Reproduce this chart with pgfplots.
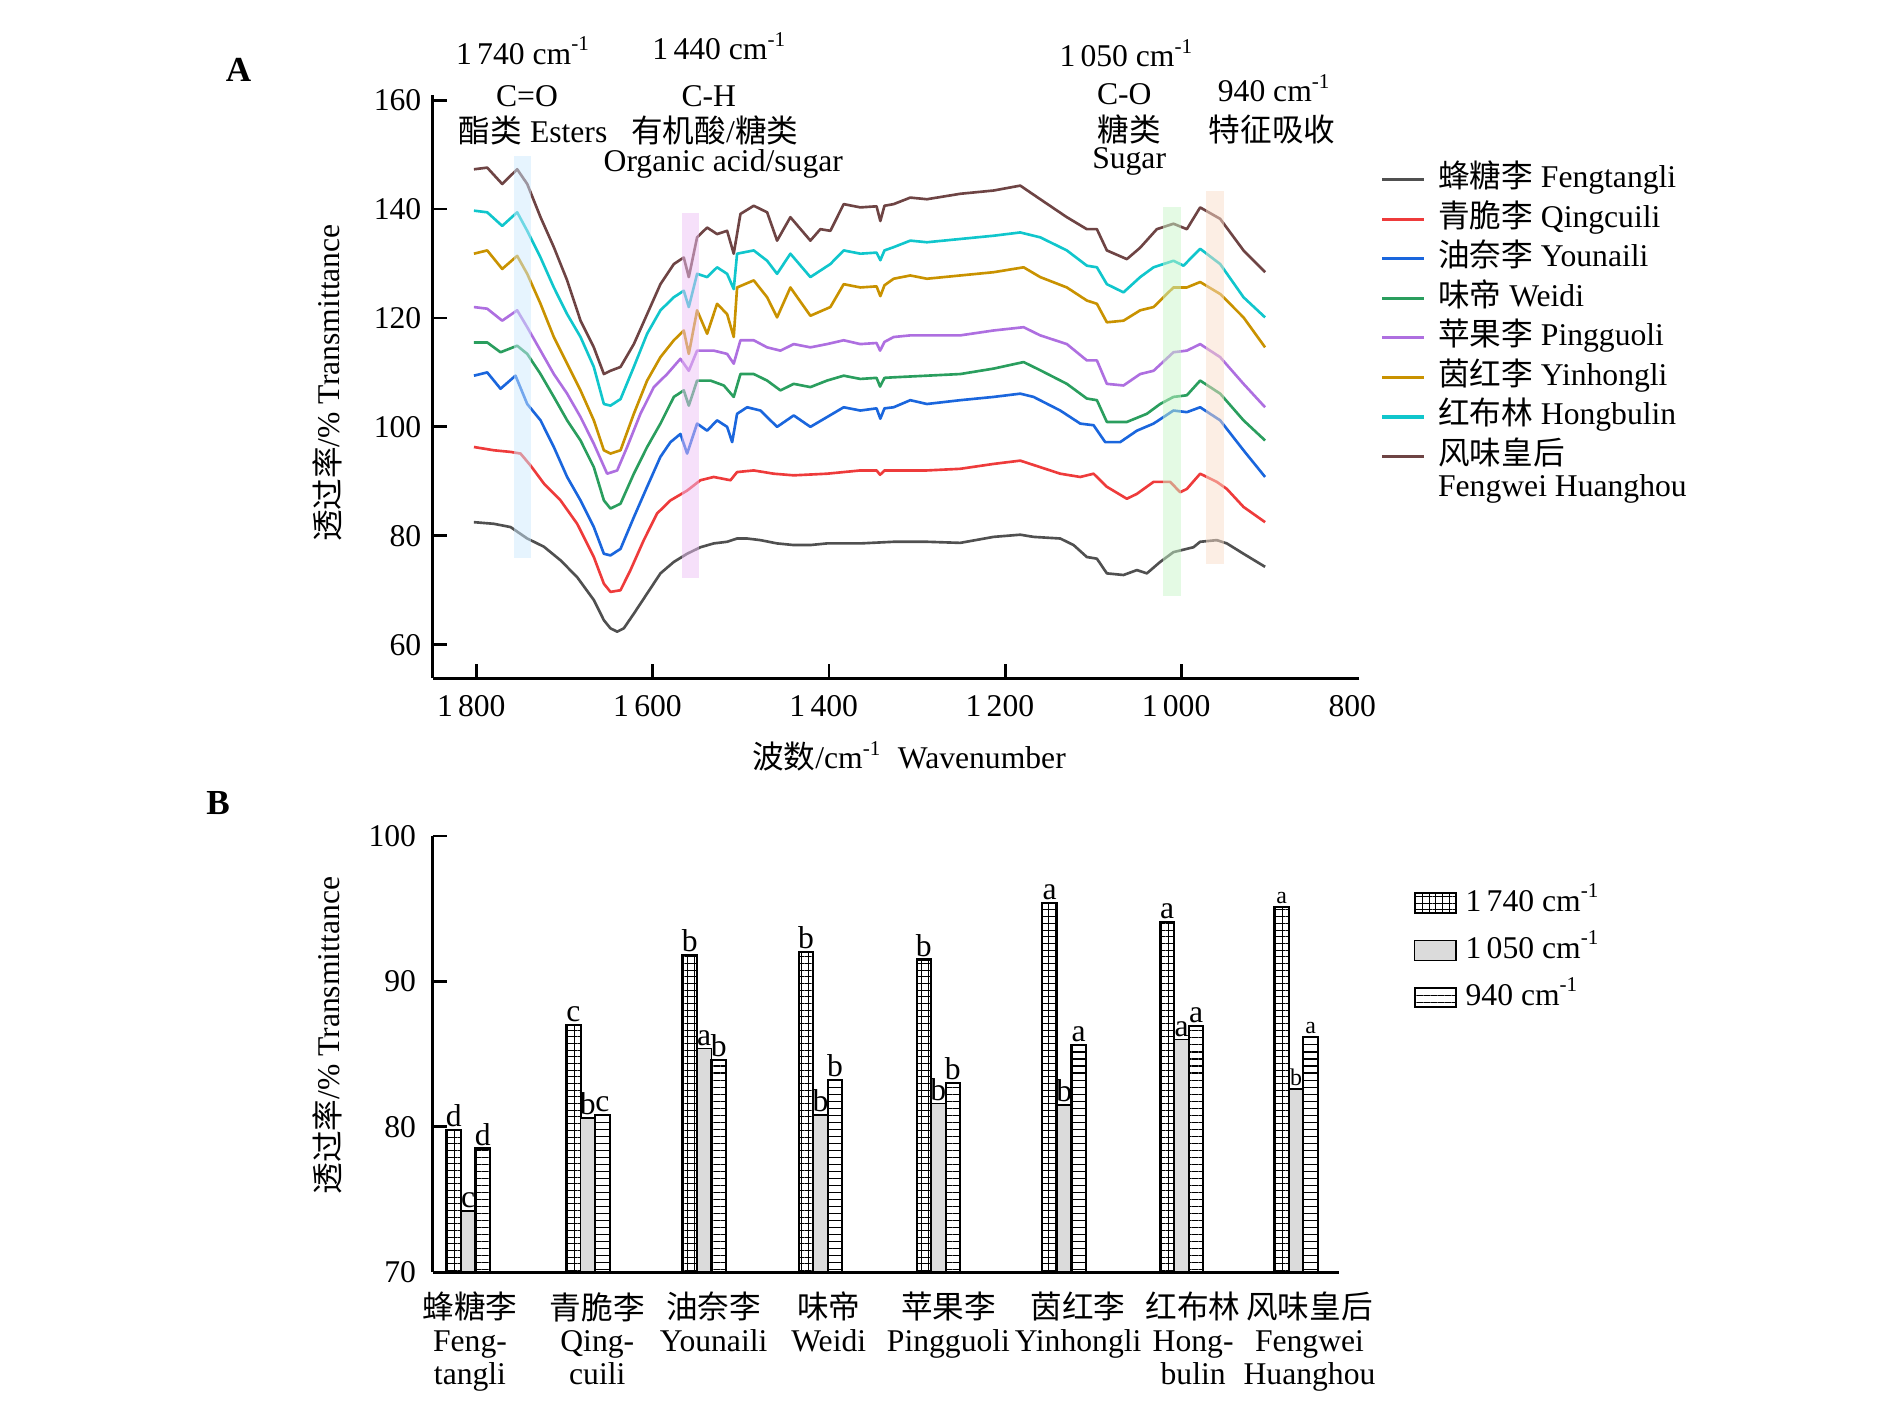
\documentclass[border=0pt]{standalone}
\usepackage{fontspec}
\setmainfont{Liberation Serif}
\newfontfamily\cjk{Noto Sans CJK SC}
\usepackage{pgfplots}
\pgfplotsset{compat=1.18}
\usetikzlibrary{patterns,patterns.meta}
\definecolor{cFT}{HTML}{505050}
\definecolor{cQC}{HTML}{EE3B3B}
\definecolor{cYN}{HTML}{1A66DD}
\definecolor{cWD}{HTML}{2A9E5E}
\definecolor{cPG}{HTML}{AE6FE0}
\definecolor{cYH}{HTML}{C99200}
\definecolor{cHB}{HTML}{10C6CC}
\definecolor{cFW}{HTML}{6E4444}
\definecolor{bandB}{RGB}{205,233,253}
\definecolor{bandP}{RGB}{237,193,245}
\definecolor{bandG}{RGB}{201,245,201}
\definecolor{bandO}{RGB}{249,221,201}
\newcommand\cm{cm\textsuperscript{-1}}
\protected\def\sm#1{{\fontsize{6.8}{7.5}\selectfont #1}}
\begin{document}
\fontsize{9}{10.8}\selectfont
\begin{tikzpicture}[x=0.3447pt,y=-0.3447pt]
\useasboundingbox (0,0) rectangle (1560,1170);
\coordinate (A0) at (357,560);
\coordinate (B0) at (357,1050);
% ---------------- Panel A ----------------
\begin{axis}[
  at={(A0)}, anchor=south west, scale only axis,
  width=263.7pt, height=166.1pt,
  x dir=reverse, xmin=798, xmax=1850, ymin=53.8, ymax=161,
  enlargelimits=false,
  axis x line=bottom, axis y line=left,
  axis line style={-, line width=0.8pt},
  tick style={black, line width=0.8pt}, major tick length=4pt, tick align=inside,
  xtick={1800,1600,1400,1200,1000},
  xticklabels={1\,800,1\,600,1\,400,1\,200,1\,000},
  extra x ticks={800}, extra x tick labels={800},
  extra x tick style={major tick length=0pt},
  xticklabel style={yshift=-1.5pt, xshift=-1.5pt},
  ytick={60,80,100,120,140,160},
  /pgf/number format/assume math mode=true,
  xlabel={{\cjk 波数}/\cm\ \ Wavenumber},
  ylabel={{\cjk 透过率}/\% Transmittance},
  xlabel style={at={(axis description cs:0.514,-0.133)}, anchor=center},
  ylabel style={at={(axis description cs:-0.1137,0.506)}, anchor=center},
  legend cell align=left,
  legend style={at={(axis description cs:1.022,0.889)}, anchor=north west,
    draw=none, fill=none, inner sep=0pt, row sep=0.15pt, column sep=2pt,
    nodes={inner sep=1.5pt, text height=6.3pt, text depth=1.8pt, anchor=west}},
  legend image code/.code={\draw[#1,line width=0.9pt] (0pt,0pt) -- (12pt,0pt);},
  every axis plot/.append style={line width=0.75pt, mark=none, line join=round},
]
\addplot[cFT] coordinates {(1803,82.5) (1780.3,82.2) (1761.4,81.6) (1742.5,79.5) (1723.6,78.0) (1704.7,75.5) (1685.8,72.4) (1666.9,68.2) (1655.5,64.5) (1648,63.0) (1640.4,62.4) (1632.9,63.0) (1621.5,65.7) (1606.4,69.4) (1591.3,73.1) (1576.1,75.2) (1561,76.7) (1545.9,77.9) (1530.8,78.6) (1515.6,78.9) (1504.3,79.5) (1492.9,79.5) (1477.8,79.2) (1458.9,78.6) (1440,78.3) (1421.1,78.3) (1402.2,78.6) (1383.3,78.6) (1364.4,78.6) (1326.6,78.9) (1288.8,78.9) (1251,78.7) (1213.1,79.8) (1182.9,80.2) (1167.8,79.8) (1137.5,79.5) (1122.4,78.3) (1107.3,76.1) (1095.9,75.8) (1084.6,73.1) (1065.7,72.8) (1050.5,73.7) (1039.2,73.1) (1024.1,75.2) (1009,77.0) (986.3,77.9) (978.7,78.9) (959.8,79.2) (948.4,78.6) (929.5,76.7) (905,74.3)};
\addlegendentry{{\cjk 蜂糖李} Fengtangli}
\addplot[cQC] coordinates {(1803,96.3) (1780.3,95.7) (1761.4,95.4) (1750.1,95.1) (1738.7,92.9) (1723.6,89.6) (1704.7,86.5) (1685.8,82.2) (1666.9,76.1) (1655.5,71.2) (1648,69.7) (1636.6,70.0) (1625.3,73.7) (1610.2,79.2) (1595.1,84.1) (1579.9,86.5) (1561,88.3) (1545.9,90.2) (1530.8,90.8) (1511.8,90.2) (1504.3,91.7) (1485.4,92.0) (1462.7,91.4) (1440,91.1) (1402.2,91.4) (1364.4,92.0) (1346,92.0) (1342,91.2) (1337,92.0) (1326.6,92.0) (1288.8,92.0) (1251,92.3) (1213.1,93.2) (1182.9,93.8) (1160.2,92.6) (1137.5,91.4) (1114.8,90.8) (1099.7,91.4) (1084.6,89.0) (1061.9,86.8) (1050.5,87.7) (1031.6,89.9) (1012.7,89.9) (1001.4,88.0) (993.8,88.6) (978.7,91.4) (959.8,89.9) (948.4,88.6) (929.5,85.3) (905,82.5)};
\addlegendentry{{\cjk 青脆李} Qingcuili}
\addplot[cYN] coordinates {(1803,109.4) (1787.9,110.0) (1772.8,107.0) (1755.8,109.4) (1742.5,104.2) (1727.4,101.2) (1712.3,96.3) (1697.2,90.8) (1682,86.5) (1666.9,81.6) (1655.5,76.7) (1648,76.4) (1636.6,77.6) (1621.5,83.4) (1606.4,89.0) (1591.3,94.5) (1579.9,97.2) (1568.6,98.7) (1561,95.1) (1549.7,100.6) (1538.3,99.3) (1527,101.2) (1515.6,100.0) (1509.9,97.2) (1504.3,102.4) (1492.9,103.6) (1477.8,103.0) (1458.9,100.0) (1440,102.1) (1421.1,100.0) (1402.2,101.8) (1383.3,103.6) (1364.4,103.0) (1346,103.4) (1341.7,101.5) (1337,103.4) (1326.6,103.6) (1307.7,104.9) (1288.8,104.2) (1251,104.9) (1213.1,105.5) (1182.9,106.1) (1167.8,105.5) (1137.5,103.0) (1114.8,100.6) (1099.7,100.3) (1086.5,97.2) (1069.5,97.2) (1050.5,99.3) (1031.6,100.6) (1009,103.0) (993.8,102.7) (978.7,103.6) (956,101.2) (929.5,95.7) (905,90.8)};
\addlegendentry{{\cjk 油奈李} Younaili}
\addplot[cWD] coordinates {(1803,115.5) (1787.9,115.5) (1772.8,113.7) (1753.9,114.9) (1742.5,113.4) (1727.4,109.7) (1712.3,105.5) (1697.2,101.2) (1682,97.5) (1666.9,92.6) (1655.5,86.5) (1648,85.0) (1636.6,85.9) (1621.5,91.4) (1606.4,96.3) (1591.3,100.6) (1576.1,105.5) (1564.8,106.7) (1559.1,103.9) (1549.7,108.5) (1534.5,108.5) (1519.4,107.6) (1508.1,105.5) (1500.5,109.7) (1485.4,109.7) (1470.2,108.5) (1455.1,106.7) (1440,107.9) (1421.1,107.3) (1402.2,108.5) (1383.3,109.4) (1364.4,108.8) (1346,109.0) (1342,107.4) (1337,109.0) (1326.6,109.1) (1288.8,109.4) (1251,109.7) (1213.1,110.7) (1179.1,111.9) (1160.2,110.4) (1130,107.9) (1107.3,105.2) (1095.9,104.9) (1084.6,100.9) (1061.9,100.9) (1039.2,102.4) (1024.1,104.2) (1009,105.5) (993.8,105.8) (978.7,108.5) (956,106.1) (929.5,101.2) (905,97.5)};
\addlegendentry{{\cjk 味帝} Weidi}
\addplot[cPG] coordinates {(1803,122.0) (1787.9,121.7) (1770.9,119.5) (1753.9,121.4) (1742.5,118.3) (1727.4,114.0) (1712.3,109.7) (1697.2,106.1) (1682,101.8) (1666.9,96.9) (1651.8,91.4) (1640.4,92.0) (1629.1,96.3) (1614,102.4) (1598.8,107.3) (1583.7,109.7) (1568.6,112.5) (1559.1,110.3) (1549.7,114.0) (1530.8,114.0) (1515.6,113.4) (1508.1,111.6) (1500.5,115.9) (1485.4,115.9) (1470.2,114.6) (1455.1,114.0) (1440,115.2) (1421.1,114.6) (1402.2,115.2) (1383.3,115.9) (1364.4,115.2) (1346,115.4) (1342,114.0) (1337,115.6) (1326.6,116.5) (1307.7,116.8) (1288.8,116.8) (1251,116.8) (1213.1,117.7) (1179.1,118.3) (1160.2,116.8) (1130,115.2) (1107.3,112.2) (1095.9,112.2) (1084.6,107.9) (1065.7,107.6) (1046.8,109.7) (1031.6,110.3) (1009,113.7) (993.8,114.0) (978.7,115.2) (956,112.8) (929.5,107.9) (905,103.6)};
\addlegendentry{{\cjk 苹果李} Pingguoli}
\addplot[cYH] coordinates {(1803,131.8) (1787.9,132.4) (1770.9,129.0) (1753.9,131.4) (1742.5,128.1) (1727.4,122.6) (1712.3,116.5) (1697.2,111.6) (1682,106.7) (1666.9,101.2) (1655.5,95.7) (1648,95.1) (1636.6,95.7) (1621.5,102.4) (1606.4,108.5) (1591.3,112.8) (1576.1,115.9) (1564.8,117.7) (1559.1,113.4) (1549.7,121.4) (1538.3,117.1) (1527,122.6) (1515.6,120.7) (1508.1,116.5) (1504.3,125.6) (1485.4,126.9) (1470.2,123.8) (1458.9,120.1) (1443.8,125.6) (1421.1,120.4) (1398.4,122.0) (1383.3,126.2) (1364.4,125.6) (1346,125.8) (1341.7,124.0) (1337,126.0) (1326.6,127.2) (1307.7,127.8) (1288.8,127.2) (1251,127.8) (1213.1,128.4) (1179.1,129.3) (1160.2,127.5) (1130,125.6) (1107.3,123.2) (1095.9,122.6) (1084.6,119.2) (1065.7,119.5) (1046.8,121.4) (1031.6,122.0) (1009,125.6) (993.8,125.6) (978.7,126.6) (956,124.4) (929.5,120.1) (905,114.6)};
\addlegendentry{{\cjk 茵红李} Yinhongli}
\addplot[cHB] coordinates {(1803,139.7) (1787.9,139.4) (1770.9,136.9) (1753.9,139.4) (1742.5,136.0) (1727.4,131.1) (1712.3,125.6) (1697.2,120.7) (1682,116.5) (1666.9,111.0) (1655.5,104.2) (1648,103.9) (1636.6,105.1) (1621.5,111.0) (1606.4,117.1) (1591.3,121.4) (1576.1,123.8) (1564.8,125.0) (1559.1,122.0) (1549.7,128.1) (1538.3,127.5) (1527,129.3) (1515.6,128.1) (1508.1,125.3) (1504.3,131.8) (1485.4,132.4) (1470.2,130.5) (1458.9,128.1) (1443.8,131.8) (1421.1,127.5) (1398.4,129.9) (1383.3,132.4) (1364.4,131.8) (1346,132.0) (1341.7,130.6) (1337,132.4) (1326.6,133.0) (1307.7,134.2) (1288.8,133.9) (1251,134.5) (1213.1,135.1) (1182.9,135.7) (1160.2,134.8) (1130,132.4) (1107.3,129.6) (1095.9,129.3) (1084.6,126.2) (1065.7,124.7) (1046.8,127.5) (1031.6,129.3) (1009,130.5) (997.6,129.6) (978.7,132.7) (956,129.9) (929.5,123.8) (905,120.1)};
\addlegendentry{{\cjk 红布林} Hongbulin}
\addplot[cFW] coordinates {(1803,147.3) (1787.9,147.6) (1770.9,144.6) (1753.9,147.3) (1742.5,144.6) (1727.4,138.5) (1712.3,133.0) (1697.2,126.9) (1682,119.5) (1666.9,114.6) (1655.5,109.7) (1648,110.3) (1636.6,111.0) (1621.5,115.2) (1606.4,120.7) (1591.3,126.2) (1576.1,129.9) (1564.8,131.1) (1559.1,127.5) (1549.7,134.8) (1538.3,136.6) (1527,135.4) (1515.6,136.0) (1508.1,131.8) (1500.5,139.1) (1485.4,140.6) (1470.2,139.4) (1458.9,134.2) (1443.8,138.5) (1421.1,134.2) (1409.8,136.3) (1398.4,136.0) (1383.3,140.9) (1364.4,140.3) (1346,140.5) (1341.7,137.8) (1337,140.6) (1326.6,140.9) (1307.7,142.1) (1288.8,141.8) (1251,142.8) (1213.1,143.4) (1182.9,144.3) (1160.2,141.8) (1130,138.5) (1107.3,136.3) (1095.9,136.3) (1084.6,132.4) (1061.9,130.8) (1046.8,132.9) (1027.9,136.3) (1009,137.3) (993.8,136.3) (978.7,140.3) (956,138.2) (929.5,132.4) (905,128.4)};
\addlegendentry{\rlap{\raisebox{-9.2pt}[0pt][0pt]{Fengwei Huanghou}}{\cjk 风味皇后}}
% highlight bands
\addplot[draw=none, fill=bandB, fill opacity=0.5, forget plot] coordinates {(1757.4,76) (1757.4,149.8) (1738.1,149.8) (1738.1,76)} -- cycle;
\addplot[draw=none, fill=bandP, fill opacity=0.5, forget plot] coordinates {(1566.3,72.2) (1566.3,139.3) (1547.1,139.3) (1547.1,72.2)} -- cycle;
\addplot[draw=none, fill=bandG, fill opacity=0.5, forget plot] coordinates {(1020.6,68.9) (1020.6,140.4) (1000,140.4) (1000,68.9)} -- cycle;
\addplot[draw=none, fill=bandO, fill opacity=0.5, forget plot] coordinates {(972.5,74.9) (972.5,143.3) (951.9,143.3) (951.9,74.9)} -- cycle;
\end{axis}
% ---------------- Panel B ----------------
\begin{axis}[
  at={(B0)}, anchor=south west, scale only axis,
  width=257.8pt, height=124.1pt,
  xmin=-0.3, xmax=7.317, ymin=70, ymax=100,
  enlargelimits=false,
  axis x line=bottom, axis y line=left,
  axis line style={-, line width=0.8pt},
  tick style={black, line width=0.8pt}, major tick length=4pt, tick align=inside,
  ytick={70,80,90,100},
  yticklabel style={xshift=-1.5pt},
  /pgf/number format/assume math mode=true,
  xtick={0.015,1.085,2.063,3.031,4.037,5.127,6.094,7.072},
  xticklabels={{\cjk 蜂糖李}\\Feng-\\tangli,{\cjk 青脆李}\\Qing-\\cuili,{\cjk 油奈李}\\Younaili,{\cjk 味帝}\\Weidi,{\cjk 苹果李}\\Pingguoli,{\cjk 茵红李}\\Yinhongli,{\cjk 红布林}\\Hong-\\bulin,{\cjk 风味皇后}\\Fengwei\\Huanghou},
  xticklabel style={align=center, font=\fontsize{9}{9.3}\selectfont, yshift=-2.5pt},
  x tick style={draw=none},
  ylabel={{\cjk 透过率}/\% Transmittance},
  ylabel style={at={(axis description cs:-0.1163,0.542)}, anchor=center},
  bar width=0.122,
  nodes near coords, point meta=explicit symbolic,
  every node near coord/.append style={font=\fontsize{9}{10}\selectfont, inner sep=0.6pt, text=black, anchor=south},
  legend cell align=left,
  legend style={at={(axis description cs:1.082,0.892)}, anchor=north west,
    draw=none, fill=none, inner sep=0pt, row sep=2.3pt, column sep=1pt,
    nodes={inner sep=1.5pt, text height=6.3pt, text depth=1.8pt, anchor=west}},
  legend image code/.code={\draw[#1] (0pt,-2.8pt) rectangle (11.7pt,2.8pt);},
]
\addplot[ybar, bar shift=-0.122, draw=black, line width=0.6pt,
  pattern={Hatch[angle=0,distance=1.9pt,line width=0.28pt]}, pattern color=black,
  every node near coord/.append style={xshift=-4.13pt}]
  coordinates {(0,79.8)[d] (1.006,87.0)[c] (1.984,91.8)[b] (2.961,92.0)[b] (3.952,91.5)[b] (5.010,95.4)[a] (5.997,94.1)[a] (6.960,95.1)[\sm{a}]};
\addlegendentry{1\,740 \cm}
\addplot[ybar, bar shift=0, draw=black, line width=0.4pt, fill=black!14]
  coordinates {(0,74.2)[c] (1.006,80.6)[b] (1.984,85.4)[a] (2.961,80.8)[b] (3.952,81.6)[b] (5.010,81.5)[b] (5.997,86.0)[a] (6.960,82.6)[\sm{b}]};
\addlegendentry{1\,050 \cm}
\addplot[ybar, bar shift=0.122, draw=black, line width=0.6pt,
  pattern={Lines[angle=0,distance=2pt,line width=0.32pt]}, pattern color=black,
  every node near coord/.append style={xshift=4.13pt}]
  coordinates {(0,78.5)[d] (1.006,80.8)[c] (1.984,84.6)[b] (2.961,83.2)[b] (3.952,83.0)[b] (5.010,85.6)[a] (5.997,86.9)[a] (6.960,86.2)[\sm{a}]};
\addlegendentry{940 \cm}
\end{axis}
% ---------------- Annotations ----------------
\node[font=\bfseries\fontsize{10}{12}\selectfont] at (197,58) {A};
\node[font=\bfseries\fontsize{10}{12}\selectfont] at (180,663) {B};
\node at (432,42) {1\,740 \cm};
\node at (594,38) {1\,440 \cm};
\node at (930,44) {1\,050 \cm};
\node at (1052,73) {940 \cm};
\node at (435,79) {C=O};
\node at (440,108) {{\cjk 酯类} Esters};
\node at (585,79) {C-H};
\node at (590,108) {{\cjk 有机酸}/{\cjk 糖类}};
\node at (597,135) {Organic acid/sugar};
\node at (928,78) {C-O};
\node at (932,107) {{\cjk 糖类}};
\node at (932,133) {Sugar};
\node at (1050,107) {{\cjk 特征吸收}};
\end{tikzpicture}
\end{document}
